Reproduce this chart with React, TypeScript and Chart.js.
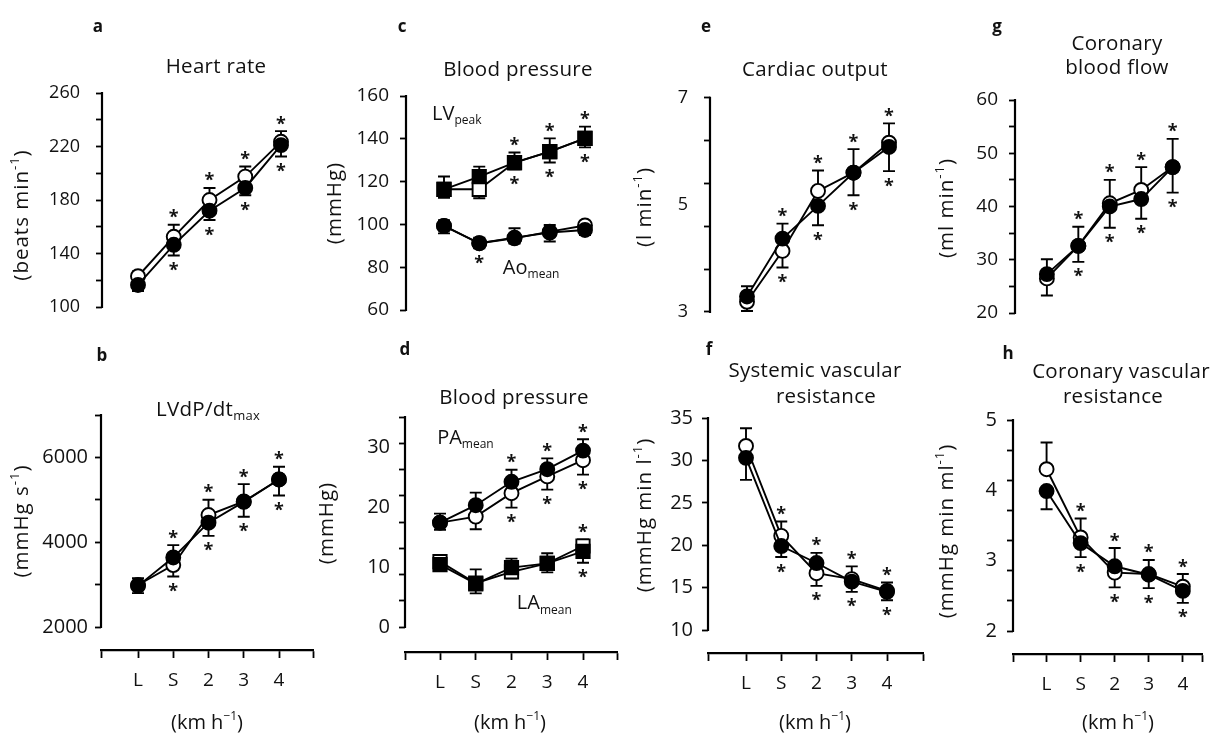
import React, { useEffect, useRef } from 'react';
import { Chart, registerables } from 'chart.js';

Chart.register(...registerables);

const W = 1213;
const H = 738;
const FONT = "'Open Sans', 'DejaVu Sans', sans-serif";
const INK = '#111111';

// ---------- data ----------
const categories = ['L', 'S', '2', '3', '4'];

// a: Heart rate (beats min-1)
const hrOpen = [123, 152.5, 180, 197.5, 223.5];
const hrFilled = [116.5, 146.5, 172, 189, 221];
const hrUpper = [126.5, 161.5, 189, 205, 231.5];
const hrLower = [112, 138.5, 165, 183.5, 212.5];
const hrStarUp = [0, 1, 1, 1, 1];
const hrStarDown = [0, 1, 1, 1, 1];

// b: LVdP/dt max (mmHg s-1)
const dpOpen = [2990, 3460, 4640, 4960, 5480];
const dpFilled = [2970, 3640, 4460, 4950, 5480];
const dpUpper = [3150, 3930, 5000, 5370, 5780];
const dpLower = [2800, 3190, 4150, 4600, 5100];
const dpStarUp = [0, 1, 1, 1, 1];
const dpStarDown = [0, 1, 1, 1, 1];

// c: Blood pressure LVpeak / Ao mean (mmHg)
const lvOpen = [116.4, 116.4, 128.9, 134, 140.2];
const lvFilled = [116.4, 122.3, 128.9, 134, 140.2];
const lvUpper = [122.4, 127, 133.6, 140.2, 145.7];
const lvLower = [112.4, 112.2, 125.7, 128.9, 136];
const lvStarUp = [0, 0, 1, 1, 1];
const lvStarDown = [0, 0, 1, 1, 1];
const aoOpen = [99.3, 91.2, 93.5, 96.6, 99.5];
const aoFilled = [99.3, 91.2, 93.8, 96.2, 97.4];
const aoUpper = [102, 93.8, 98.2, 99.7, 101];
const aoLower = [95.8, 88.8, 91, 92, 95];
const aoStarUp = [0, 0, 0, 0, 0];
const aoStarDown = [0, 1, 0, 0, 0];

// d: Blood pressure PA mean / LA mean (mmHg)
const paOpen = [17.4, 18.4, 22.3, 25.1, 27.8];
const paFilled = [17.4, 20.3, 24.2, 26.3, 29.4];
const paUpper = [18.9, 22.4, 26.2, 28.1, 31.3];
const paLower = [16.2, 16.3, 19.9, 22.9, 25.4];
const paStarUp = [0, 0, 1, 1, 1];
const paStarDown = [0, 0, 1, 1, 1];
const laOpen = [10.9, 7.3, 9.2, 10.6, 13.5];
const laFilled = [10.4, 7.2, 9.9, 10.6, 12.6];
const laUpper = [11.4, 9.6, 11.4, 12.3, 14.6];
const laLower = [9.8, 5.6, 8.1, 9.1, 10.7];
const laStarUp = [0, 0, 0, 0, 1];
const laStarDown = [0, 0, 0, 0, 1];

// e: Cardiac output (l min-1)
const coOpen = [3.19, 4.14, 5.26, 5.6, 6.16];
const coFilled = [3.29, 4.37, 4.98, 5.6, 6.08];
const coUpper = [3.48, 4.65, 5.64, 6.04, 6.52];
const coLower = [3.02, 3.83, 4.62, 5.18, 5.63];
const coStarUp = [0, 1, 1, 1, 1];
const coStarDown = [0, 1, 1, 1, 1];

// f: Systemic vascular resistance (mmHg min l-1)
const svrOpen = [31.7, 21.1, 16.7, 16.0, 14.6];
const svrFilled = [30.3, 19.9, 17.9, 15.7, 14.5];
const svrUpper = [33.8, 22.8, 19.1, 17.5, 15.6];
const svrLower = [27.7, 18.6, 15.2, 14.5, 13.5];
const svrStarUp = [0, 1, 1, 1, 1];
const svrStarDown = [0, 1, 1, 1, 1];

// g: Coronary blood flow (ml min-1)
const cbfOpen = [26.5, 32.6, 40.6, 43.1, 47.4];
const cbfFilled = [27.3, 32.6, 40.0, 41.4, 47.4];
const cbfUpper = [30.1, 36.2, 45, 47.4, 52.7];
const cbfLower = [23.3, 29.6, 36, 37.7, 42.6];
const cbfStarUp = [0, 1, 1, 1, 1];
const cbfStarDown = [0, 1, 1, 1, 1];

// h: Coronary vascular resistance (mmHg min ml-1)
const cvrOpen = [4.3, 3.33, 2.83, 2.81, 2.63];
const cvrFilled = [3.99, 3.25, 2.92, 2.8, 2.57];
const cvrUpper = [4.68, 3.6, 3.18, 3.01, 2.81];
const cvrLower = [3.73, 3.05, 2.62, 2.61, 2.4];
const cvrStarUp = [0, 1, 1, 1, 1];
const cvrStarDown = [0, 1, 1, 1, 1];

// tick marks / tick labels per axis
const aTickMarks = [100, 120, 140, 160, 180, 200, 220, 240, 260];
const aTickLabels = [100, 140, 180, 220, 260];
const bTickMarks = [2000, 3000, 4000, 5000, 6000, 7000];
const bTickLabels = [2000, 4000, 6000];
const cTickMarks = [60, 80, 100, 120, 140, 160];
const cTickLabels = [60, 80, 100, 120, 140, 160];
const dTickMarks = [0, 4.375, 8.75, 13.125, 17.5, 21.875, 26.25, 30.625, 35];
const dTickLabels = [0, 10, 20, 30];
const eTickMarks = [3, 3.8, 4.6, 5.4, 6.2, 7];
const eTickLabels = [3, 5, 7];
const fTickMarks = [10, 15, 20, 25, 30, 35];
const fTickLabels = [10, 15, 20, 25, 30, 35];
const gTickMarks = [20, 25, 30, 35, 40, 45, 50, 55, 60];
const gTickLabels = [20, 30, 40, 50, 60];
const hTickMarks = [2, 2.4286, 2.8571, 3.2857, 3.7143, 4.1429, 4.5714, 5];
const hTickLabels = [2, 3, 4, 5];

// ---------- types ----------
type Seg = { t: string; k?: 'sup' | 'sub' };
type TextItem = { segs: Seg[]; x: number; y: number };
type Note = { segs: Seg[]; xv: number; yv: number };
type Group = {
  open: number[]; filled: number[]; upper: number[]; lower: number[];
  starUp: number[]; starDown: number[]; marker: 'circle' | 'rect';
};
type PanelCfg = {
  letter: string; letterX: number; letterY: number;
  titles: TextItem[]; yTitle: TextItem; xTitleX?: number;
  axisX: number; yTopVal: number; yTopPx: number; yBotVal: number; yBotPx: number;
  tickMarks: number[]; tickLabels: number[]; tickPad: number; tickSize: number;
  Lx: number; X4: number; xAxisY?: number; xRight?: number;
  groups: Group[]; notes?: Note[];
};

const sup = (t: string): Seg => ({ t, k: 'sup' });
const sub = (t: string): Seg => ({ t, k: 'sub' });
const txt = (t: string): Seg => ({ t });

const panels: PanelCfg[] = [
  {
    letter: 'a', letterX: 98, letterY: 27,
    titles: [{ segs: [txt('Heart rate')], x: 216, y: 67 }],
    yTitle: { segs: [txt('(beats min'), sup('-1'), txt(')')], x: 22, y: 215 },
    axisX: 102, yTopVal: 260, yTopPx: 93, yBotVal: 100, yBotPx: 307,
    tickMarks: aTickMarks, tickLabels: aTickLabels, tickPad: 16, tickSize: 18,
    Lx: 138, X4: 281,
    groups: [{ open: hrOpen, filled: hrFilled, upper: hrUpper, lower: hrLower, starUp: hrStarUp, starDown: hrStarDown, marker: 'circle' }],
  },
  {
    letter: 'c', letterX: 402, letterY: 27,
    titles: [{ segs: [txt('Blood pressure')], x: 518, y: 70 }],
    yTitle: { segs: [txt('(mmHg)')], x: 335, y: 203 },
    axisX: 406, yTopVal: 160, yTopPx: 96, yBotVal: 60, yBotPx: 310,
    tickMarks: cTickMarks, tickLabels: cTickLabels, tickPad: 11, tickSize: 19,
    Lx: 444, X4: 585,
    groups: [
      { open: lvOpen, filled: lvFilled, upper: lvUpper, lower: lvLower, starUp: lvStarUp, starDown: lvStarDown, marker: 'rect' },
      { open: aoOpen, filled: aoFilled, upper: aoUpper, lower: aoLower, starUp: aoStarUp, starDown: aoStarDown, marker: 'circle' },
    ],
    notes: [
      { segs: [txt('LV'), sub('peak')], xv: -0.34, yv: 151.5 },
      { segs: [txt('Ao'), sub('mean')], xv: 1.67, yv: 79.6 },
    ],
  },
  {
    letter: 'e', letterX: 706, letterY: 27,
    titles: [{ segs: [txt('Cardiac output')], x: 815, y: 70 }],
    yTitle: { segs: [txt('(l min'), sup('-1'), txt(')')], x: 645, y: 207 },
    axisX: 710, yTopVal: 7, yTopPx: 97.7, yBotVal: 3, yBotPx: 312,
    tickMarks: eTickMarks, tickLabels: eTickLabels, tickPad: 16, tickSize: 18,
    Lx: 747, X4: 889,
    groups: [{ open: coOpen, filled: coFilled, upper: coUpper, lower: coLower, starUp: coStarUp, starDown: coStarDown, marker: 'circle' }],
  },
  {
    letter: 'g', letterX: 997, letterY: 27,
    titles: [
      { segs: [txt('Coronary')], x: 1117, y: 44 },
      { segs: [txt('blood flow')], x: 1117, y: 68 },
    ],
    yTitle: { segs: [txt('(ml min'), sup('-1'), txt(')')], x: 947, y: 208 },
    axisX: 1015, yTopVal: 60, yTopPx: 100, yBotVal: 20, yBotPx: 313,
    tickMarks: gTickMarks, tickLabels: gTickLabels, tickPad: 11, tickSize: 19,
    Lx: 1051, X4: 1193,
    groups: [{ open: cbfOpen, filled: cbfFilled, upper: cbfUpper, lower: cbfLower, starUp: cbfStarUp, starDown: cbfStarDown, marker: 'circle' }],
  },
  {
    letter: 'b', letterX: 102, letterY: 356,
    titles: [{ segs: [txt('LVdP/dt'), sub('max')], x: 208, y: 410 }],
    yTitle: { segs: [txt('(mmHg s'), sup('-1'), txt(')')], x: 22, y: 521 },
    xTitleX: 207,
    axisX: 101, yTopVal: 7000, yTopPx: 415, yBotVal: 2000, yBotPx: 627,
    tickMarks: bTickMarks, tickLabels: bTickLabels, tickPad: 7, tickSize: 20,
    Lx: 138, X4: 279, xAxisY: 650, xRight: 313,
    groups: [{ open: dpOpen, filled: dpFilled, upper: dpUpper, lower: dpLower, starUp: dpStarUp, starDown: dpStarDown, marker: 'circle' }],
  },
  {
    letter: 'd', letterX: 405, letterY: 350,
    titles: [{ segs: [txt('Blood pressure')], x: 514, y: 398 }],
    yTitle: { segs: [txt('(mmHg)')], x: 327, y: 523 },
    xTitleX: 510,
    axisX: 405, yTopVal: 35, yTopPx: 417, yBotVal: 0, yBotPx: 627,
    tickMarks: dTickMarks, tickLabels: dTickLabels, tickPad: 9, tickSize: 20,
    Lx: 440, X4: 583, xAxisY: 652, xRight: 617,
    groups: [
      { open: paOpen, filled: paFilled, upper: paUpper, lower: paLower, starUp: paStarUp, starDown: paStarDown, marker: 'circle' },
      { open: laOpen, filled: laFilled, upper: laUpper, lower: laLower, starUp: laStarUp, starDown: laStarDown, marker: 'rect' },
    ],
    notes: [
      { segs: [txt('PA'), sub('mean')], xv: -0.08, yv: 31.5 },
      { segs: [txt('LA'), sub('mean')], xv: 2.15, yv: 3.9 },
    ],
  },
  {
    letter: 'f', letterX: 709, letterY: 350,
    titles: [
      { segs: [txt('Systemic vascular')], x: 815, y: 371 },
      { segs: [txt('resistance')], x: 826, y: 397 },
    ],
    yTitle: { segs: [txt('(mmHg min l'), sup('-1'), txt(')')], x: 645, y: 515 },
    xTitleX: 815,
    axisX: 708, yTopVal: 35, yTopPx: 418, yBotVal: 10, yBotPx: 630,
    tickMarks: fTickMarks, tickLabels: fTickLabels, tickPad: 9, tickSize: 20,
    Lx: 746, X4: 887, xAxisY: 653, xRight: 923,
    groups: [{ open: svrOpen, filled: svrFilled, upper: svrUpper, lower: svrLower, starUp: svrStarUp, starDown: svrStarDown, marker: 'circle' }],
  },
  {
    letter: 'h', letterX: 1008, letterY: 354,
    titles: [
      { segs: [txt('Coronary vascular')], x: 1121, y: 372 },
      { segs: [txt('resistance')], x: 1113, y: 397 },
    ],
    yTitle: { segs: [txt('(mmHg min ml'), sup('-1'), txt(')')], x: 947, y: 531 },
    xTitleX: 1118,
    axisX: 1013, yTopVal: 5, yTopPx: 420, yBotVal: 2, yBotPx: 631,
    tickMarks: hTickMarks, tickLabels: hTickLabels, tickPad: 10, tickSize: 20,
    Lx: 1048, X4: 1190, xAxisY: 654, xRight: 1210,
    groups: [{ open: cvrOpen, filled: cvrFilled, upper: cvrUpper, lower: cvrLower, starUp: cvrStarUp, starDown: cvrStarDown, marker: 'circle' }],
  },
];

// ---------- drawing helpers ----------
function drawRich(ctx: CanvasRenderingContext2D, segs: Seg[], x: number, y: number, size: number,
  align: 'left' | 'center' = 'center', rotate = false, spacing = 0) {
  ctx.save();
  (ctx as any).letterSpacing = `${spacing}px`;
  ctx.translate(x, y);
  if (rotate) ctx.rotate(-Math.PI / 2);
  const small = Math.round(size * 0.62);
  const fontOf = (s: Seg) => `${s.k ? small : size}px ${FONT}`;
  const widths = segs.map((s) => { ctx.font = fontOf(s); return ctx.measureText(s.t).width; });
  const total = widths.reduce((a, b) => a + b, 0);
  let cx = align === 'left' ? 0 : -total / 2;
  ctx.textBaseline = 'middle';
  ctx.textAlign = 'left';
  ctx.fillStyle = INK;
  segs.forEach((s, i) => {
    ctx.font = fontOf(s);
    const dy = s.k === 'sup' ? -size * 0.33 : s.k === 'sub' ? size * 0.33 : 0;
    ctx.fillText(s.t, cx, dy);
    cx += widths[i];
  });
  ctx.restore();
}

function drawStar(ctx: CanvasRenderingContext2D, x: number, cy: number) {
  ctx.save();
  ctx.font = `bold 18px ${FONT}`;
  ctx.fillStyle = INK;
  ctx.textAlign = 'center';
  ctx.textBaseline = 'alphabetic';
  const m = ctx.measureText('*');
  const asc = m.actualBoundingBoxAscent;
  const desc = m.actualBoundingBoxDescent;
  ctx.fillText('*', x, cy + (asc - desc) / 2);
  ctx.restore();
}

const near = (a: number, list: number[]) => list.some((v) => Math.abs(v - a) < 1e-6);

function buildChart(canvas: HTMLCanvasElement, cfg: PanelCfg) {
  const unit = (cfg.X4 - cfg.Lx) / 4;
  const xmin = -(cfg.Lx - cfg.axisX) / unit;
  const xRight = cfg.xRight ?? cfg.X4 + unit;
  const xmax = 4 + (xRight - cfg.X4) / unit;
  const hasX = cfg.xAxisY !== undefined;
  const chartBottom = hasX ? (cfg.xAxisY as number) : cfg.yBotPx;
  const pxPerVal = (cfg.yBotPx - cfg.yTopPx) / (cfg.yTopVal - cfg.yBotVal);
  const ymin = cfg.yBotVal - (chartBottom - cfg.yBotPx) / pxPerVal;
  const allTicks = [...cfg.tickMarks];
  cfg.tickLabels.forEach((v) => { if (!near(v, allTicks)) allTicks.push(v); });
  allTicks.sort((a, b) => a - b);

  const datasets: any[] = [];
  cfg.groups.forEach((g) => {
    const common = {
      borderColor: '#000', borderWidth: 1.9, tension: 0, fill: false, clip: false,
      pointStyle: g.marker, pointRadius: g.marker === 'rect' ? 9.4 : 7,
      pointBorderColor: '#000', pointBorderWidth: 1.9,
    };
    datasets.push({ ...common, label: 'filled', data: g.filled.map((v, i) => ({ x: i, y: v })), pointBackgroundColor: '#000' });
    datasets.push({ ...common, label: 'open', data: g.open.map((v, i) => ({ x: i, y: v })), pointBackgroundColor: '#fff' });
  });

  const decor = {
    id: 'decor',
    beforeDatasetsDraw(chart: any) {
      const ctx: CanvasRenderingContext2D = chart.ctx;
      const xs = chart.scales.x;
      const ys = chart.scales.y;
      ctx.save();
      ctx.strokeStyle = '#000';
      ctx.lineWidth = 1.9;
      cfg.groups.forEach((g) => {
        g.open.forEach((_, i) => {
          const px = xs.getPixelForValue(i);
          const hi = Math.max(g.open[i], g.filled[i]);
          const lo = Math.min(g.open[i], g.filled[i]);
          const yh = ys.getPixelForValue(hi);
          const yu = ys.getPixelForValue(g.upper[i]);
          const yl0 = ys.getPixelForValue(lo);
          const yl = ys.getPixelForValue(g.lower[i]);
          ctx.beginPath();
          ctx.moveTo(px, yh); ctx.lineTo(px, yu);
          ctx.moveTo(px - 6, yu); ctx.lineTo(px + 6, yu);
          ctx.moveTo(px, yl0); ctx.lineTo(px, yl);
          ctx.moveTo(px - 6, yl); ctx.lineTo(px + 6, yl);
          ctx.stroke();
        });
      });
      ctx.restore();
    },
    afterDraw(chart: any) {
      const ctx: CanvasRenderingContext2D = chart.ctx;
      const xs = chart.scales.x;
      const ys = chart.scales.y;
      const left = chart.chartArea.left;
      // y-axis spine, only over the value range
      ctx.save();
      ctx.strokeStyle = '#000';
      ctx.lineWidth = 2.2;
      ctx.beginPath();
      ctx.moveTo(left, ys.getPixelForValue(cfg.yTopVal) - 1);
      ctx.lineTo(left, ys.getPixelForValue(cfg.yBotVal) + 1);
      ctx.stroke();
      ctx.restore();
      // significance stars
      cfg.groups.forEach((g) => {
        g.open.forEach((_, i) => {
          const px = xs.getPixelForValue(i);
          if (g.starUp[i]) drawStar(ctx, px, ys.getPixelForValue(g.upper[i]) - 11);
          if (g.starDown[i]) drawStar(ctx, px, ys.getPixelForValue(g.lower[i]) + 11);
        });
      });
      // notes
      (cfg.notes || []).forEach((n) => {
        drawRich(ctx, n.segs, xs.getPixelForValue(n.xv), ys.getPixelForValue(n.yv), 20, 'left');
      });
      // titles
      cfg.titles.forEach((t) => drawRich(ctx, t.segs, t.x, t.y, 20.5, 'center', false, 0.3));
      drawRich(ctx, cfg.yTitle.segs, cfg.yTitle.x, cfg.yTitle.y, 20.5, 'center', true, 1);
      if (hasX && cfg.xTitleX !== undefined) {
        drawRich(ctx, [txt('(km h'), sup('\u22121'), txt(')')], cfg.xTitleX, 723, 20);
      }
      // panel letter
      ctx.save();
      ctx.font = `bold 17px ${FONT}`;
      ctx.fillStyle = INK;
      ctx.textAlign = 'center';
      ctx.textBaseline = 'middle';
      ctx.fillText(cfg.letter, cfg.letterX, cfg.letterY);
      ctx.restore();
    },
  };

  return new Chart(canvas, {
    type: 'line',
    data: { datasets },
    plugins: [decor],
    options: {
      responsive: false,
      animation: false,
      devicePixelRatio: 1,
      events: [],
      layout: {
        padding: { left: 0, top: cfg.yTopPx, right: W - xRight, bottom: hasX ? 0 : H - chartBottom },
      },
      plugins: { legend: { display: false }, tooltip: { enabled: false }, title: { display: false } },
      scales: {
        x: {
          type: 'linear', min: xmin, max: xmax, display: hasX,
          afterFit: (s: any) => { if (hasX) s.height = H - (cfg.xAxisY as number); },
          afterBuildTicks: (s: any) => { s.ticks = [xmin, 0, 1, 2, 3, 4, xmax].map((v) => ({ value: v })); },
          ticks: {
            autoSkip: false, maxRotation: 0, minRotation: 0, padding: 11, color: INK,
            font: { family: FONT, size: 19 },
            callback: (v: any) => (Number.isInteger(v) && v >= 0 && v < categories.length ? categories[v] : ''),
          },
          grid: { display: true, drawOnChartArea: false, drawTicks: true, tickLength: 8, tickWidth: 1.8, tickColor: '#000' },
          border: { display: true, color: '#000', width: 2.2 },
        },
        y: {
          type: 'linear', min: ymin, max: cfg.yTopVal,
          afterFit: (s: any) => { s.width = cfg.axisX; },
          afterBuildTicks: (s: any) => { s.ticks = allTicks.map((v) => ({ value: v })); },
          ticks: {
            autoSkip: false, padding: cfg.tickPad, color: INK,
            font: { family: FONT, size: cfg.tickSize },
            callback: (v: any) => (near(v, cfg.tickLabels) ? String(Math.round(v)) : ''),
          },
          grid: {
            display: true, drawOnChartArea: false, drawTicks: true, tickLength: 6, tickWidth: 1.8,
            tickColor: (c: any) => (c.tick && near(c.tick.value, cfg.tickMarks) ? '#000' : 'rgba(0,0,0,0)'),
          },
          border: { display: false },
        },
      },
    } as any,
  });
}

function Panel({ cfg }: { cfg: PanelCfg }) {
  const ref = useRef<HTMLCanvasElement>(null);
  useEffect(() => {
    if (!ref.current) return;
    const chart = buildChart(ref.current, cfg);
    return () => chart.destroy();
  }, [cfg]);
  return (
    <canvas
      ref={ref}
      width={W}
      height={H}
      style={{ position: 'absolute', left: 0, top: 0, width: W, height: H }}
    />
  );
}

export default function App() {
  return (
    <div style={{ position: 'absolute', left: 0, top: 0, width: W, height: H, background: '#fff', overflow: 'hidden' }}>
      {panels.map((p) => (
        <Panel key={p.letter} cfg={p} />
      ))}
    </div>
  );
}
